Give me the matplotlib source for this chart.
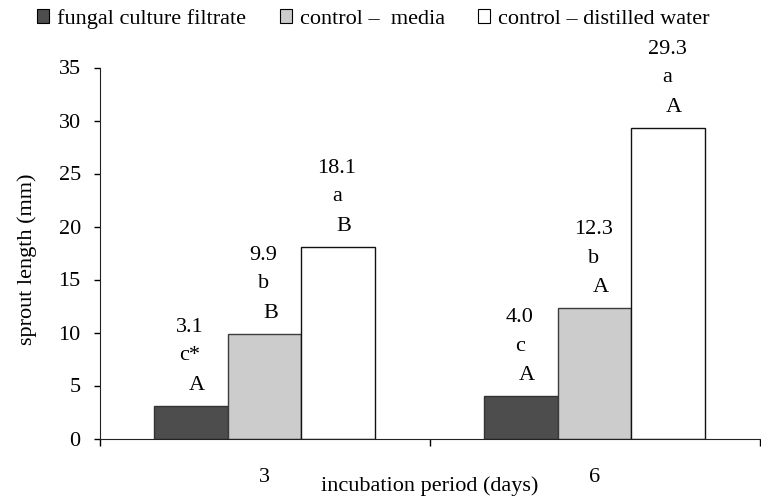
import matplotlib.pyplot as plt
from matplotlib.patches import Patch

plt.rcParams['font.family'] = ['Liberation Serif', 'DejaVu Serif']

periods = ['3', '6']
series = ['fungal culture filtrate', 'control \u2013  media', 'control \u2013 distilled water']
values = [[3.1, 4.0], [9.9, 12.3], [18.1, 29.3]]
lower = [['c*', 'c'], ['b', 'b'], ['a', 'a']]
upper = [['A', 'A'], ['B', 'A'], ['B', 'A']]
fills = ['#4d4d4d', '#cccccc', '#ffffff']
edges = ['#333333', '#3c3c3c', '#111111']

FS = 16
fig = plt.figure(figsize=(7.61, 4.96), dpi=100)
ax = fig.add_axes([99.5 / 761, 1 - 438.5 / 496, 660 / 761, 371 / 496])

w = 0.223
centers = [0.5, 1.5]
px = 1 / 330.0  # data units per pixel along x
py = 35 / 371.0  # data units per pixel along y
for i in range(3):
    xs = [c + (i - 1) * w for c in centers]
    ax.bar(xs, values[i], width=w, color=fills[i], edgecolor=edges[i], linewidth=1)
    for j, x in enumerate(xs):
        top = values[i][j]
        ax.text(x - 1 * px, top + 74 * py, '%.1f' % top, ha='center', va='baseline', fontsize=FS)
        ax.text(x - 1 * px, top + 45.5 * py, lower[i][j], ha='center', va='baseline', fontsize=FS)
        ax.text(x + 6 * px, top + 16 * py, upper[i][j], ha='center', va='baseline', fontsize=FS)

ax.set_xlim(0, 2)
ax.set_ylim(0, 35)
ax.set_yticks(range(0, 36, 5))
ax.set_xticks([0, 1, 2])
ax.set_xticklabels([])
ax.set_xticks(centers, minor=True)
ax.set_xticklabels(periods, minor=True)
ax.tick_params(axis='x', which='major', direction='out', length=5, width=1)
ax.tick_params(axis='x', which='minor', length=0, pad=21, labelsize=FS)
ax.tick_params(axis='y', direction='out', length=4, width=1, pad=9.5, labelsize=FS)
for s in ['top', 'right']:
    ax.spines[s].set_visible(False)
ax.spines['left'].set_color('#222222')
ax.spines['bottom'].set_color('#222222')

ax.set_ylabel('sprout length (mm)', fontsize=FS)
ax.yaxis.set_label_coords(-0.095, 0.484)
ax.set_xlabel('incubation period (days)', fontsize=FS)
ax.xaxis.set_label_coords(0.50, -0.101)

handles = [Patch(facecolor=fills[i], edgecolor='#000000', linewidth=0.8) for i in range(3)]
fig.legend(handles, series, loc='upper left', bbox_to_anchor=(37 / 761, 1 - 9 / 496), ncol=3,
           frameon=False, fontsize=FS, handlelength=0.55, handleheight=0.55,
           handletextpad=0.36, columnspacing=1.5, borderpad=0, borderaxespad=0)

fig.savefig('out.png', dpi=100)
